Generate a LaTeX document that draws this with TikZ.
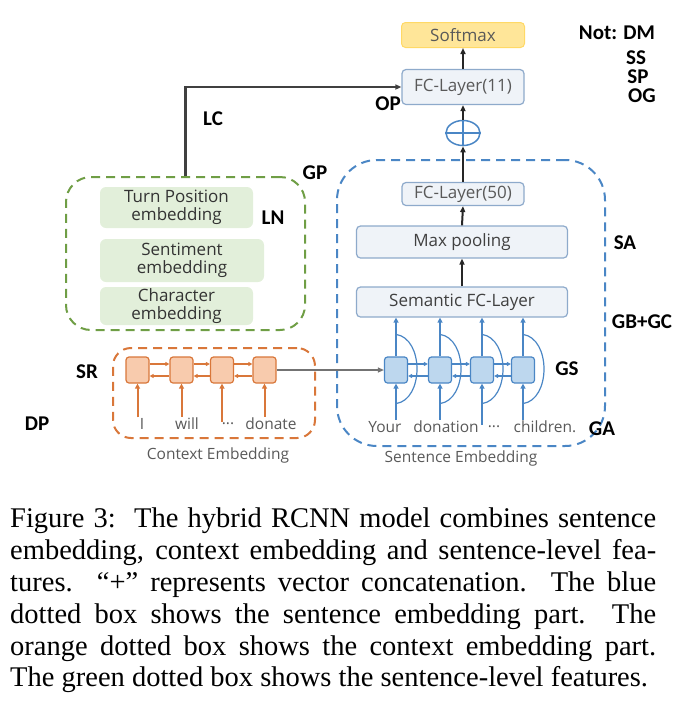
\documentclass[tikz,border=0pt]{standalone}
\usepackage{fontspec}
\setmainfont{Liberation Serif}
\newfontfamily\boxfont{Open Sans}
\newfontfamily\tagfont{Carlito}
\usepackage{xcolor}
\usetikzlibrary{arrows.meta,positioning,fit,backgrounds,shapes.geometric}

\definecolor{softfill}{HTML}{FFE699}
\definecolor{softdraw}{HTML}{FFD966}
\definecolor{fcfill}{HTML}{EFF3F8}
\definecolor{fcdraw}{HTML}{8EAACB}
\definecolor{sentblue}{HTML}{4A86C5}
\definecolor{cellblue}{HTML}{BDD7EE}
\definecolor{featgreen}{HTML}{6F9E45}
\definecolor{featfill}{HTML}{E2EFDA}
\definecolor{ctxorange}{HTML}{D9773A}
\definecolor{cellorange}{HTML}{F8CBAD}
\definecolor{txtgray}{HTML}{595959}

\begin{document}
\begin{tikzpicture}[x=1pt,y=-1pt,
  layer/.style={draw=fcdraw,fill=fcfill,rounded corners=4pt,line width=1.2pt,
                font=\boxfont\fontsize{17}{19}\selectfont,text=txtgray,inner sep=0pt},
  softbox/.style={draw=softdraw,fill=softfill,rounded corners=4pt,line width=1pt,
                  font=\boxfont\fontsize{17}{19}\selectfont,text=black!65,inner sep=0pt},
  group/.style={dashed,line width=2pt,dash pattern=on 9pt off 6pt,inner sep=0pt},
  featitem/.style={fill=featfill,rounded corners=6pt,align=center,inner sep=0pt,
                   font=\boxfont\fontsize{17}{18}\selectfont,text=black!80},
  ocell/.style={draw=ctxorange,fill=cellorange,rounded corners=3pt,line width=1.2pt,
                minimum width=23pt,minimum height=26pt,inner sep=0pt},
  bcell/.style={draw=sentblue,fill=cellblue,rounded corners=3pt,line width=1.2pt,
                minimum width=23pt,minimum height=26pt,inner sep=0pt},
  word/.style={font=\boxfont\fontsize{15.5}{17}\selectfont,text=txtgray,inner sep=1pt},
  tag/.style={font=\tagfont\bfseries\fontsize{21}{22}\selectfont,inner sep=0pt,
              text height=13pt,text depth=0pt},
  arr/.style={-{Triangle[length=6pt,width=5pt]},line width=2pt,black!85},
  barr/.style={-{Triangle[length=5pt,width=5pt]},line width=2pt,sentblue},
  oarr/.style={-{Triangle[length=5pt,width=5pt]},line width=2pt,ctxorange},
  blink/.style={-{Triangle[length=4pt,width=4pt]},line width=1.2pt,sentblue},
  olink/.style={-{Triangle[length=4pt,width=4pt]},line width=1.2pt,ctxorange},
  rec/.style={line width=1.2pt,sentblue}
]
\useasboundingbox (0,0) rectangle (680,724);

%% Output stack
\node[softbox,minimum width=123pt,minimum height=25pt] (soft) at (463,35) {Softmax};
\node[layer,minimum width=122pt,minimum height=35pt] (fc11) at (463,87) {FC-Layer(11)};
\node[draw=sentblue,ellipse,line width=1.5pt,minimum width=34pt,minimum height=25pt,
      inner sep=0pt] (cat) at (463,133) {};
\draw[sentblue,line width=1.2pt] (cat.north) -- (cat.south) (cat.west) -- (cat.east);

%% Sentence embedding part
\node[group,draw=sentblue,rounded corners=40pt,minimum width=268pt,
      minimum height=286pt] (sent) at (471,303) {};
\node[layer,minimum width=122pt,minimum height=23pt] (fc50) at (463,194) {FC-Layer(50)};
\node[layer,minimum width=211pt,minimum height=32pt,text=black!75] (pool) at (462,242) {Max pooling};
\node[layer,minimum width=211pt,minimum height=30pt,text=black!75] (sem) at (462,302) {Semantic FC-Layer};
\node[bcell] (b1) at (396,370) {};
\node[bcell] (b2) at (440,370) {};
\node[bcell] (b3) at (482,370) {};
\node[bcell] (b4) at (523,370) {};
\node[word] (w1) at (385,427) {Your};
\node[word] (w2) at (446,427) {donation};
\node[word] (w3) at (494,427) {...};
\node[word] (w4) at (545,427) {children.};
\node[word] (sentlbl) at (461,458) {Sentence Embedding};

%% Sentence-level features
\node[group,draw=featgreen,rounded corners=25pt,minimum width=239pt,
      minimum height=153pt] (feat) at (185.5,253.5) {};
\node[featitem,minimum width=153pt,minimum height=41pt] (tpos) at (176.5,207.5) {Turn Position\\embedding};
\node[featitem,minimum width=164pt,minimum height=43pt] (senti) at (182,260.5) {Sentiment\\embedding};
\node[featitem,minimum width=153pt,minimum height=38pt] (chars) at (176.5,306) {Character\\embedding};

%% Context embedding part
\node[group,draw=ctxorange,rounded corners=18pt,minimum width=202pt,
      minimum height=90pt] (ctx) at (214,393) {};
\node[ocell] (o1) at (137.5,370) {};
\node[ocell] (o2) at (181.5,370) {};
\node[ocell] (o3) at (222,370) {};
\node[ocell] (o4) at (264.5,370) {};
\node[word] (c1) at (142,424) {I};
\node[word] (c2) at (187,424) {will};
\node[word] (c3) at (228,424) {...};
\node[word] (c4) at (271,424) {donate};
\node[word] (ctxlbl) at (218,455) {Context Embedding};

%% Main arrows
\draw[arr] (fc11.north) -- (soft.south);
\draw[arr] (cat.north) -- (fc11.south);
\draw[arr] (fc50.north) -- (cat.south);
\draw[arr] (pool.north) -- (fc50.south);
\draw[arr] (sem.north) -- (pool.south);
\draw[arr,line width=2.5pt,black!75] (feat.north) |- (fc11.west);

%% Blue recurrent layer
\foreach \c in {b1,b2,b3,b4}{
  \draw[rec] ([yshift=22pt]\c.north) .. controls +(28,4) and +(28,-4) .. ([yshift=-20pt]\c.south);
  \draw[barr] (\c.north) -- (\c.north |- sem.south);
}
\draw[barr] (b1.south |- w1.north) -- (b1.south);
\draw[barr] (b2.south |- w2.north) -- (b2.south);
\draw[barr] (b3.south |- w3.north) -- (b3.south);
\draw[barr] (b4.south |- w4.north) -- (b4.south);
\draw[blink] ([yshift=6pt]b1.east) -- ([yshift=6pt]b2.west);
\draw[blink] ([yshift=6pt]b2.east) -- ([yshift=6pt]b3.west);
\draw[blink] ([yshift=6pt]b3.east) -- ([yshift=6pt]b4.west);
\draw[blink] ([yshift=-6pt]b2.west) -- ([yshift=-6pt]b1.east);
\draw[blink] ([yshift=-6pt]b3.west) -- ([yshift=-6pt]b2.east);
\draw[blink] ([yshift=-6pt]b4.west) -- ([yshift=-6pt]b3.east);

%% Orange recurrent layer
\draw[oarr] (o1.south |- c1.north) -- (o1.south);
\draw[oarr] (o2.south |- c2.north) -- (o2.south);
\draw[oarr] (o3.south |- c3.north) -- (o3.south);
\draw[oarr] (o4.south |- c4.north) -- (o4.south);
\draw[olink] ([yshift=6pt]o1.east) -- ([yshift=6pt]o2.west);
\draw[olink] ([yshift=6pt]o2.east) -- ([yshift=6pt]o3.west);
\draw[olink] ([yshift=6pt]o3.east) -- ([yshift=6pt]o4.west);
\draw[olink] ([yshift=-6pt]o2.west) -- ([yshift=-6pt]o1.east);
\draw[olink] ([yshift=-6pt]o3.west) -- ([yshift=-6pt]o2.east);
\draw[olink] ([yshift=-6pt]o4.west) -- ([yshift=-6pt]o3.east);
\draw[-{Triangle[length=6pt,width=5pt]},line width=1.2pt,black!55] (o4.east) -- (b1.west);

%% Annotation tags
\node[tag] (notdm) at (617,33) {Not: DM};
\node[tag] (ss) at (636,58) {SS};
\node[tag] (sp) at (638,77) {SP};
\node[tag] (og) at (642,96) {OG};
\node[tag] (op) at (388,104) {OP};
\node[tag] (lc) at (213,119) {LC};
\node[tag] (gp) at (315,173) {GP};
\node[tag] (ln) at (273,218) {LN};
\node[tag] (sa) at (625,243) {SA};
\node[tag] (gbgc) at (642,322) {GB+GC};
\node[tag] (gs) at (567,369) {GS};
\node[tag] (ga) at (602,429) {GA};
\node[tag] (sr) at (87,372) {SR};
\node[tag] (dp) at (37,424) {DP};

%% Caption
\node[anchor=north west,inner sep=0pt,text width=646pt,align=justify,
      font=\fontsize{28.5}{31.8}\selectfont] (caption) at (10,508)
  {\parfillskip=0pt Figure 3:\ \ The hybrid RCNN model combines sentence\linebreak
   embedding, context embedding and sentence-level fea-\linebreak
   tures.\ \ ``+'' represents vector concatenation.\ \ The blue\linebreak
   dotted box shows the sentence embedding part.\ \ The\linebreak
   orange dotted box shows the context embedding part.\linebreak
   The green dotted box shows the sentence-level features.};
\end{tikzpicture}
\end{document}
